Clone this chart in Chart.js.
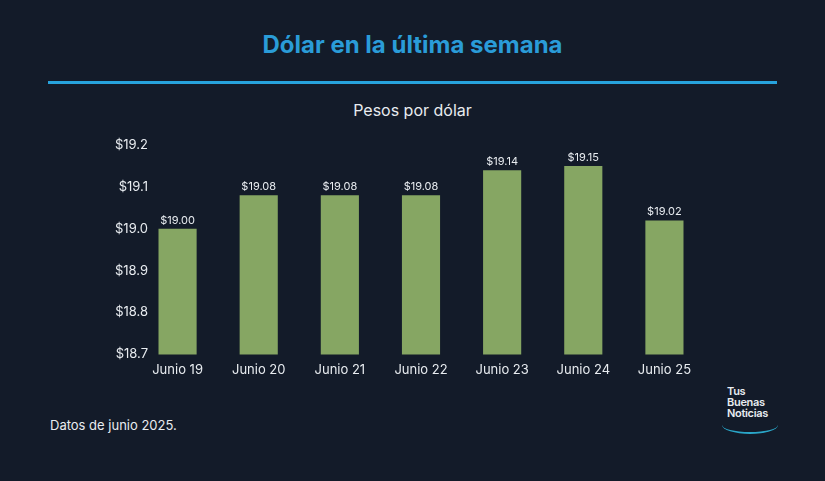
<!DOCTYPE html>
<html><head><meta charset="utf-8">
<script src="https://cdn.jsdelivr.net/npm/chart.js@4/dist/chart.umd.min.js"></script>
<style>
html,body{margin:0;padding:0;background:#131b29;width:825px;height:481px;overflow:hidden;font-family:Inter,"Open Sans",sans-serif;color:#e8ecf0}
#t{position:absolute;left:0;width:825px;top:30px;text-align:center;font-size:24px;font-weight:700;color:#2a9cd8}
#ln{position:absolute;left:48px;width:729px;top:81px;height:3px;background:#27a3dd}
#st{position:absolute;left:0;width:825px;top:100px;text-align:center;font-size:16px;color:#e8ecf0}
#ft{position:absolute;left:50px;top:417px;font-size:13px}
#lg{position:absolute;left:727px;top:386px;font-size:11px;line-height:11px;font-weight:600;letter-spacing:-0.3px}
#arc{position:absolute;left:722px;top:416px;width:56px;height:16px;border-bottom:2px solid #2aa6c8;border-radius:0 0 50% 50%}
#c{position:absolute;left:0;top:120px}
</style></head><body>
<div id="t">Dólar en la última semana</div>
<div id="ln"></div>
<div id="st">Pesos por dólar</div>
<div id="c"><canvas id="cv" width="825" height="258"></canvas></div>
<div id="ft">Datos de junio 2025.</div>
<div id="lg">Tus<br>Buenas<br>Noticias</div><div id="arc"></div>
<script>
const categories=["Junio 19","Junio 20","Junio 21","Junio 22","Junio 23","Junio 24","Junio 25"];
const values=[19.00,19.08,19.08,19.08,19.14,19.15,19.02];
const tickValues=[18.7,18.8,18.9,19.0,19.1,19.2];
const tickLabels=["$18.7","$18.8","$18.9","$19.0","$19.1","$19.2"];
const FF='Inter, "Open Sans", sans-serif';
const lab={id:'lab',afterDatasetsDraw(ch){const c=ch.ctx;c.save();c.fillStyle='#e8ecf0';c.font='11px '+FF;c.textAlign='center';c.textBaseline='bottom';
ch.getDatasetMeta(0).data.forEach((b,i)=>c.fillText('$'+values[i].toFixed(2),b.x,b.y-3));
const y=ch.scales.y;c.font='13px '+FF;c.textAlign='right';c.textBaseline='middle';
tickValues.forEach((v,i)=>c.fillText(tickLabels[i],148,y.getPixelForValue(v)));c.restore();}};
new Chart(document.getElementById('cv'),{type:'bar',
data:{labels:categories,datasets:[{data:values,backgroundColor:'#86a663',categoryPercentage:0.47,barPercentage:1}]},
options:{responsive:false,animation:false,layout:{padding:{left:0,right:120,top:25,bottom:0}},
plugins:{legend:{display:false},tooltip:{enabled:false}},
scales:{x:{grid:{display:false},border:{display:false},ticks:{color:'#e8ecf0',font:{size:13,family:FF},padding:0}},
y:{min:18.7,max:19.2,afterFit(s){s.width=137;},grid:{display:false},border:{display:false},
ticks:{display:false,stepSize:0.1}}}},
plugins:[lab]});
</script></body></html>
